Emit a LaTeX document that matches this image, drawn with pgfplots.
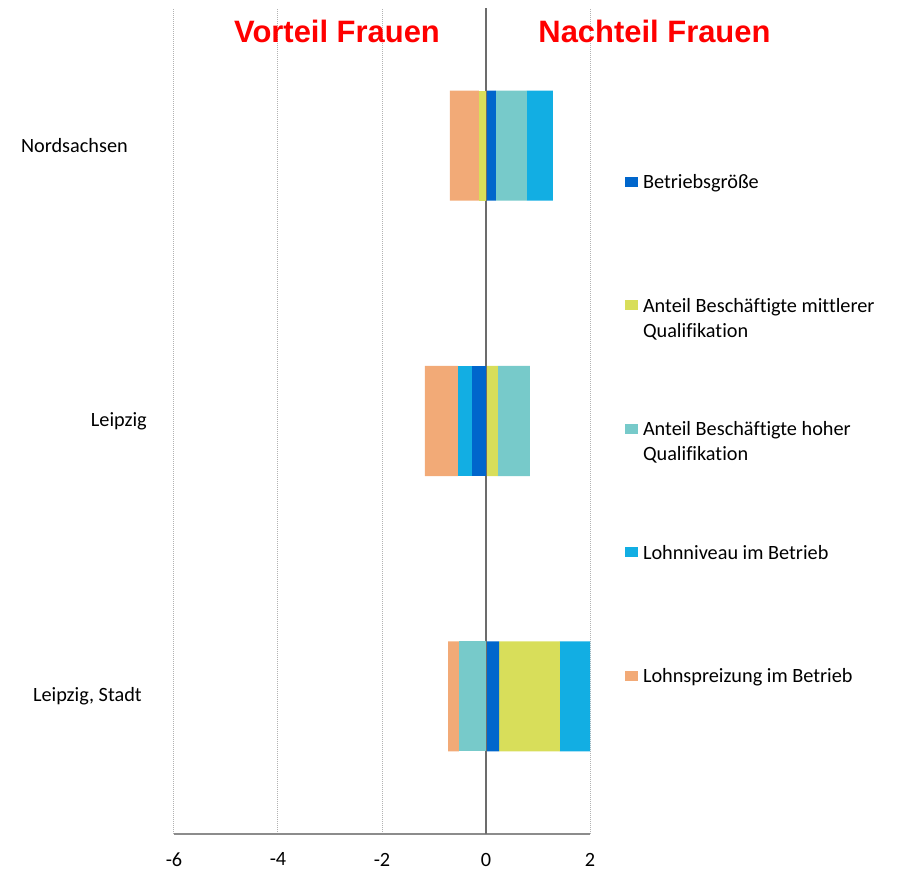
\documentclass[border=0pt]{standalone}
\usepackage{pgfplots}
\usepackage{pgfplotstable}
\pgfplotsset{compat=1.18}
\usepackage{fontspec}
\setmainfont{Carlito}[Ligatures=CommonOff]
\newfontfamily\titlefont{Liberation Sans}

\definecolor{cB}{RGB}{0,102,204}
\definecolor{cM}{RGB}{216,222,90}
\definecolor{cH}{RGB}{119,202,202}
\definecolor{cL}{RGB}{18,174,227}
\definecolor{cS}{RGB}{242,170,119}
\definecolor{titlered}{RGB}{255,0,0}

% y: 0 = Leipzig, Stadt; 1 = Leipzig; 2 = Nordsachsen
\pgfplotstableread{
y B M H L S
0 0.25 1.173 -0.52 0.577 -0.21
1 -0.27 0.23 0.615 -0.27 -0.635
2 0.192 -0.135 0.596 0.5 -0.558
}\datatab

\pgfplotsset{
  base/.style={
    at={(0,0)}, anchor=south west,
    scale only axis, width=312pt, height=619.5pt,
    xmin=-6, xmax=2, ymin=-0.5, ymax=2.5,
    xbar stacked, bar width=0.4,
    clip=false,
  },
}

\begin{document}
\begin{tikzpicture}
\useasboundingbox (-130.5pt,-28.5pt) rectangle (543.75pt,625.5pt);
% positive parts
\begin{axis}[base,
  xtick={-6,-4,-2,0,2}, xticklabels={-6,-4,-2,0,2},
  ytick={0,1,2},
  yticklabels={{Leipzig, Stadt\hspace*{3.75pt}}, Leipzig, {Nordsachsen\hspace*{14.25pt}}},
  xmajorgrids, grid style={gray!60, line width=0.75pt, dash pattern=on 0.75pt off 0.75pt},
  axis line style={draw=none},
  major tick length=0pt,
  tick label style={font=\fontsize{15.2}{18}\selectfont},
  xticklabel style={anchor=north, inner sep=0pt, yshift=-14pt},
  yticklabel style={anchor=east, inner sep=0pt, xshift=-20.25pt},
  legend style={draw=none, fill=none, at={(axis cs:2.673,1.897)}, anchor=north west,
    inner sep=0pt, outer sep=0pt, row sep=59.6pt, column sep=4pt,
    font=\fontsize{15.2}{18.75}\selectfont,
    nodes={inner sep=0pt, text height=11pt, text depth=22pt},
    cells={anchor=base west}},
  legend image code/.code={\fill[#1] (0pt,1.5pt) rectangle (9.5pt,9pt);},
]
\addplot[fill=cB, draw=none] table[x expr={max(\thisrow{B},0)}, y=y]{\datatab};
\addlegendentry{Betriebsgröße}
\addplot[fill=cM, draw=none] table[x expr={max(\thisrow{M},0)}, y=y]{\datatab};
\addlegendentry{\parbox[t]{250pt}{Anteil Beschäftigte mittlerer\\Qualifikation}}
\addplot[fill=cH, draw=none] table[x expr={max(\thisrow{H},0)}, y=y]{\datatab};
\addlegendentry{\parbox[t]{250pt}{Anteil Beschäftigte hoher\\Qualifikation}}
\addplot[fill=cL, draw=none] table[x expr={max(\thisrow{L},0)}, y=y]{\datatab};
\addlegendentry{Lohnniveau im Betrieb}
\addplot[fill=cS, draw=none] table[x expr={max(\thisrow{S},0)}, y=y]{\datatab};
\addlegendentry{Lohnspreizung im Betrieb}
\end{axis}
% negative parts
\begin{axis}[base, hide axis]
\addplot[fill=cB, draw=none] table[x expr={min(\thisrow{B},0)}, y=y]{\datatab};
\addplot[fill=cM, draw=none] table[x expr={min(\thisrow{M},0)}, y=y]{\datatab};
\addplot[fill=cH, draw=none] table[x expr={min(\thisrow{H},0)}, y=y]{\datatab};
\addplot[fill=cL, draw=none] table[x expr={min(\thisrow{L},0)}, y=y]{\datatab};
\addplot[fill=cS, draw=none] table[x expr={min(\thisrow{S},0)}, y=y]{\datatab};
\draw[gray!85!black, line width=1.3pt] (axis cs:0,-0.5) -- (axis cs:0,2.5);
\draw[gray!90, line width=1pt] (axis cs:-6,-0.5) -- (axis cs:2,-0.5);
\node[anchor=base, text=titlered, font=\titlefont\bfseries\fontsize{23.2}{26}\selectfont] at (axis cs:-2.865,2.373) {Vorteil Frauen};
\node[anchor=base, text=titlered, font=\titlefont\bfseries\fontsize{23.2}{26}\selectfont] at (axis cs:3.24,2.373) {Nachteil Frauen};
\end{axis}
\end{tikzpicture}
\end{document}
